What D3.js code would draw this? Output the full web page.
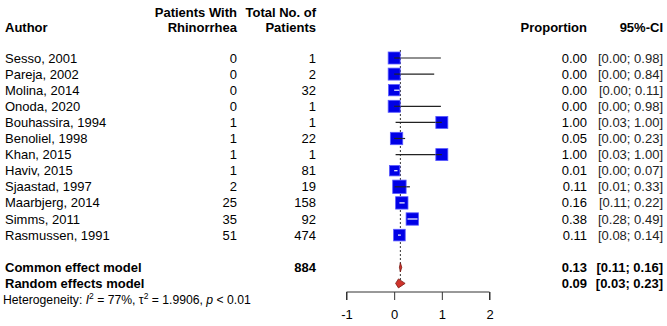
<!DOCTYPE html>
<html>
<head>
<meta charset="utf-8">
<script src="https://cdn.jsdelivr.net/npm/d3@7"></script>
<style>
  body { margin: 0; background: #fff; }
  svg { font-family: "Liberation Sans", Arial, sans-serif; }
</style>
</head>
<body>
<svg id="svg" width="667" height="326"></svg>
<script>
var authors = ["Sesso, 2001", "Pareja, 2002", "Molina, 2014", "Onoda, 2020", "Bouhassira, 1994",
  "Benoliel, 1998", "Khan, 2015", "Haviv, 2015", "Sjaastad, 1997", "Maarbjerg, 2014",
  "Simms, 2011", "Rasmussen, 1991"];
var events = [0, 0, 0, 0, 1, 1, 1, 1, 2, 25, 35, 51];
var totals = [1, 2, 32, 1, 1, 22, 1, 81, 19, 158, 92, 474];
var props = [0.00, 0.00, 0.00, 0.00, 1.00, 0.05, 1.00, 0.01, 0.11, 0.16, 0.38, 0.11];
var lower = [0.00, 0.00, 0.00, 0.00, 0.03, 0.00, 0.03, 0.00, 0.01, 0.11, 0.28, 0.08];
var upper = [0.98, 0.84, 0.11, 0.98, 1.00, 0.23, 1.00, 0.07, 0.33, 0.22, 0.49, 0.14];
var weights = [8, 8, 7, 8, 8, 8.5, 8, 6, 10, 8.5, 8.5, 7.5];

var models = ["Common effect model", "Random effects model"];
var modelEst = [0.13, 0.09];
var modelLower = [0.11, 0.03];
var modelUpper = [0.16, 0.23];
var totalPatients = 884;
var xTicks = [-1, 0, 1, 2];

var svg = d3.select("#svg");
var fmt = d3.format(".2f");

var x = d3.scaleLinear().domain([-1, 2]).range([346.5, 489.5]);
var rowY = d3.scaleLinear().domain([0, 1]).range([58, 74.1]);
var boxSize = d3.scaleSqrt().domain([0, 8]).range([0, 12]);

// headers
var hdr = svg.append("g").attr("font-weight", "bold").attr("font-size", 13);
hdr.append("text").attr("x", 5).attr("y", 32).text("Author");
hdr.append("text").attr("x", 237).attr("y", 17).attr("text-anchor", "end").text("Patients With");
hdr.append("text").attr("x", 237).attr("y", 32).attr("text-anchor", "end").text("Rhinorrhea");
hdr.append("text").attr("x", 316).attr("y", 17).attr("text-anchor", "end").text("Total No. of");
hdr.append("text").attr("x", 316).attr("y", 32).attr("text-anchor", "end").text("Patients");
hdr.append("text").attr("x", 587).attr("y", 32).attr("text-anchor", "end").text("Proportion");
hdr.append("text").attr("x", 663).attr("y", 32).attr("text-anchor", "end").text("95%-CI");

// study rows text
var rows = svg.append("g").attr("font-size", 13).selectAll("g")
  .data(authors)
  .enter().append("g")
  .attr("transform", function(d, i) { return "translate(0," + (rowY(i) + 4.5) + ")"; });
rows.append("text").attr("x", 5).text(function(d) { return d; });
rows.append("text").attr("x", 237).attr("text-anchor", "end").text(function(d, i) { return events[i]; });
rows.append("text").attr("x", 316).attr("text-anchor", "end").text(function(d, i) { return totals[i]; });
rows.append("text").attr("x", 587).attr("text-anchor", "end").text(function(d, i) { return fmt(props[i]); });
rows.append("text").attr("x", 663).attr("text-anchor", "end").attr("fill", "#222")
  .text(function(d, i) { return "[" + fmt(lower[i]) + "; " + fmt(upper[i]) + "]"; });

// model rows text
var mY = [rowY(13), rowY(14)];
var mrows = svg.append("g").attr("font-size", 13).attr("font-weight", "bold").selectAll("g")
  .data(models)
  .enter().append("g")
  .attr("transform", function(d, i) { return "translate(0," + (mY[i] + 4.5) + ")"; });
mrows.append("text").attr("x", 5).text(function(d) { return d; });
mrows.append("text").attr("x", 316).attr("text-anchor", "end").text(function(d, i) { return i === 0 ? totalPatients : ""; });
mrows.append("text").attr("x", 587).attr("text-anchor", "end").text(function(d, i) { return fmt(modelEst[i]); });
mrows.append("text").attr("x", 663).attr("text-anchor", "end")
  .text(function(d, i) { return "[" + fmt(modelLower[i]) + "; " + fmt(modelUpper[i]) + "]"; });

// heterogeneity
var het = svg.append("text").attr("x", 3).attr("y", 303.5).attr("font-size", 12.2);
het.append("tspan").text("Heterogeneity: ");
het.append("tspan").attr("font-style", "italic").text("I");
het.append("tspan").attr("dy", -5).attr("font-size", 8.5).text("2");
het.append("tspan").attr("dy", 5).text(" = 77%, \u03c4");
het.append("tspan").attr("dy", -5).attr("font-size", 8.5).text("2");
het.append("tspan").attr("dy", 5).text(" = 1.9906, ");
het.append("tspan").attr("font-style", "italic").text("p");
het.append("tspan").text(" < 0.01");

// reference line at pooled estimate
svg.append("line")
  .attr("x1", x(modelEst[0])).attr("x2", x(modelEst[0]))
  .attr("y1", 50).attr("y2", mY[1])
  .attr("stroke", "#333").attr("stroke-width", 1).attr("stroke-dasharray", "2,2");

// CI lines (black)
var plot = svg.append("g");
plot.selectAll(".ci")
  .data(authors)
  .enter().append("line")
  .attr("class", "ci")
  .attr("x1", function(d, i) { return x(lower[i]); })
  .attr("x2", function(d, i) { return x(upper[i]); })
  .attr("y1", function(d, i) { return rowY(i); })
  .attr("y2", function(d, i) { return rowY(i); })
  .attr("stroke", "#222").attr("stroke-width", 1.2);

// squares
plot.selectAll(".sq")
  .data(authors)
  .enter().append("rect")
  .attr("class", "sq")
  .attr("x", function(d, i) { return x(props[i]) - boxSize(weights[i]) / 2; })
  .attr("y", function(d, i) { return rowY(i) - boxSize(weights[i]) / 2; })
  .attr("width", function(d, i) { return boxSize(weights[i]); })
  .attr("height", function(d, i) { return boxSize(weights[i]); })
  .attr("fill", "#0000e6").attr("stroke", "#5a5aff").attr("stroke-width", 0.8);

// CI inside square drawn white when it fits in the box
plot.selectAll(".ciin")
  .data(authors)
  .enter().append("line")
  .attr("class", "ciin")
  .attr("x1", function(d, i) { return Math.max(x(lower[i]), x(props[i]) - boxSize(weights[i]) / 2); })
  .attr("x2", function(d, i) { return Math.min(x(upper[i]), x(props[i]) + boxSize(weights[i]) / 2); })
  .attr("y1", function(d, i) { return rowY(i); })
  .attr("y2", function(d, i) { return rowY(i); })
  .attr("stroke", function(d, i) {
    var half = boxSize(weights[i]) / 2;
    var inside = x(lower[i]) >= x(props[i]) - half && x(upper[i]) <= x(props[i]) + half;
    return inside ? "#fff" : "#222";
  })
  .attr("stroke-width", 1.2);

// diamonds
plot.selectAll(".dia")
  .data(models)
  .enter().append("path")
  .attr("class", "dia")
  .attr("d", function(d, i) {
    var y = mY[i];
    return "M" + x(modelLower[i]) + "," + y + "L" + x(modelEst[i]) + "," + (y - 4.5) +
      "L" + x(modelUpper[i]) + "," + y + "L" + x(modelEst[i]) + "," + (y + 4.5) + "Z";
  })
  .attr("fill", "#d0342c").attr("stroke", "#7a1a14").attr("stroke-width", 0.8);

// x axis
var axis = svg.append("g")
  .attr("transform", "translate(0,292)")
  .call(d3.axisBottom(x).tickValues(xTicks).tickSize(8).tickPadding(10)
    .tickFormat(function(d) { return String(d); }));
axis.select(".domain").attr("stroke", "#333").attr("d", "M" + x(-1) + ",8V0H" + x(2) + "V8");
axis.selectAll(".tick line").attr("stroke", "#333");
axis.selectAll(".tick text").attr("font-size", 13).attr("font-family", "Liberation Sans, Arial, sans-serif").attr("fill", "#000");
</script>
</body>
</html>
